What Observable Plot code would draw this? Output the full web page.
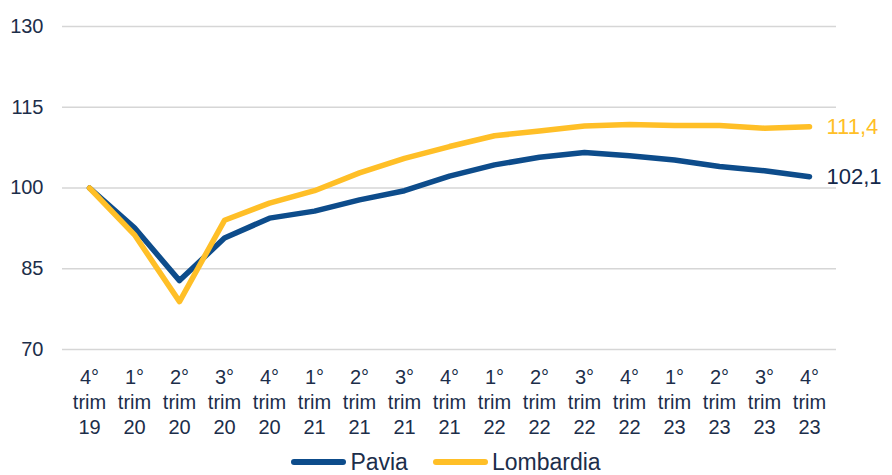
<!DOCTYPE html>
<html>
<head>
<meta charset="utf-8">
<script src="https://cdn.jsdelivr.net/npm/d3@7"></script>
<script src="https://cdn.jsdelivr.net/npm/@observablehq/plot@0.6"></script>
<style>
  html, body { margin: 0; padding: 0; background: #ffffff; overflow: hidden; }
  #chart { width: 892px; height: 475px; position: relative; font-family: "Liberation Sans", Arial, sans-serif; }
  #legend { display: flex; justify-content: center; align-items: center; height: 44px; gap: 0; color: #1c2e4a; font-size: 23px; line-height: 1; }
  .item { display: flex; align-items: center; }
  .sw { width: 55px; height: 6px; border-radius: 3px; margin-right: 4px; }
</style>
</head>
<body>
<div id="chart"></div>
<script>
const quarters = ["4°","1°","2°","3°","4°","1°","2°","3°","4°","1°","2°","3°","4°","1°","2°","3°","4°"];
const years = ["19","20","20","20","20","21","21","21","21","22","22","22","22","23","23","23","23"];
const pavia = [100,92.6,82.8,90.7,94.4,95.7,97.8,99.5,102.2,104.3,105.7,106.6,106.0,105.2,104.0,103.2,102.1];
const lombardia = [100,91.3,78.9,94.0,97.2,99.5,102.8,105.5,107.7,109.7,110.6,111.5,111.8,111.6,111.6,111.1,111.4];
const yTicks = [70,85,100,115,130];
const seriesNames = ["Pavia","Lombardia"];
const colors = ["#0d4c8b","#ffbf27"];
const labelColors = ["#14284a","#ffbf27"];

const labels = quarters.map((q, i) => q + "\ntrim\n" + years[i]);
const dataP = labels.map((l, i) => ({x: l, y: pavia[i]}));
const dataL = labels.map((l, i) => ({x: l, y: lombardia[i]}));
const last = labels.length - 1;
const fmt = v => v.toFixed(1).replace(".", ",");

const chart = Plot.plot({
  width: 892,
  height: 440,
  marginTop: 26,
  marginBottom: 91,
  marginLeft: 62,
  marginRight: 56,
  style: {fontFamily: "'Liberation Sans', Arial, sans-serif", color: "#1c2e4a", background: "#ffffff"},
  x: {type: "point", domain: labels, padding: 0.5},
  y: {domain: [70, 130]},
  marks: [
    Plot.ruleY(yTicks, {stroke: "#d6d6d6", strokeWidth: 1.6}),
    Plot.axisY({ticks: yTicks, tickSize: 0, tickPadding: 19, fontSize: 20, label: null}),
    Plot.axisX({tickSize: 0, tickPadding: 17, fontSize: 20, lineHeight: 1.25, label: null}),
    Plot.line(dataP, {x: "x", y: "y", stroke: colors[0], strokeWidth: 5.5, strokeLinecap: "round", strokeLinejoin: "round"}),
    Plot.line(dataL, {x: "x", y: "y", stroke: colors[1], strokeWidth: 5.5, strokeLinecap: "round", strokeLinejoin: "round"}),
    Plot.text([dataP[last]], {x: "x", y: "y", text: d => fmt(d.y), dx: 17, textAnchor: "start", fill: labelColors[0], fontSize: 22}),
    Plot.text([dataL[last]], {x: "x", y: "y", text: d => fmt(d.y), dx: 17, textAnchor: "start", fill: labelColors[1], fontSize: 22})
  ]
});
document.getElementById("chart").appendChild(chart);

const legend = document.createElement("div");
legend.id = "legend";
seriesNames.forEach((name, i) => {
  const item = document.createElement("div");
  item.className = "item";
  if (i > 0) item.style.marginLeft = "25px";
  const sw = document.createElement("span");
  sw.className = "sw";
  sw.style.background = colors[i];
  const t = document.createElement("span");
  t.textContent = name;
  item.appendChild(sw);
  item.appendChild(t);
  legend.appendChild(item);
});
document.getElementById("chart").appendChild(legend);
</script>
</body>
</html>
